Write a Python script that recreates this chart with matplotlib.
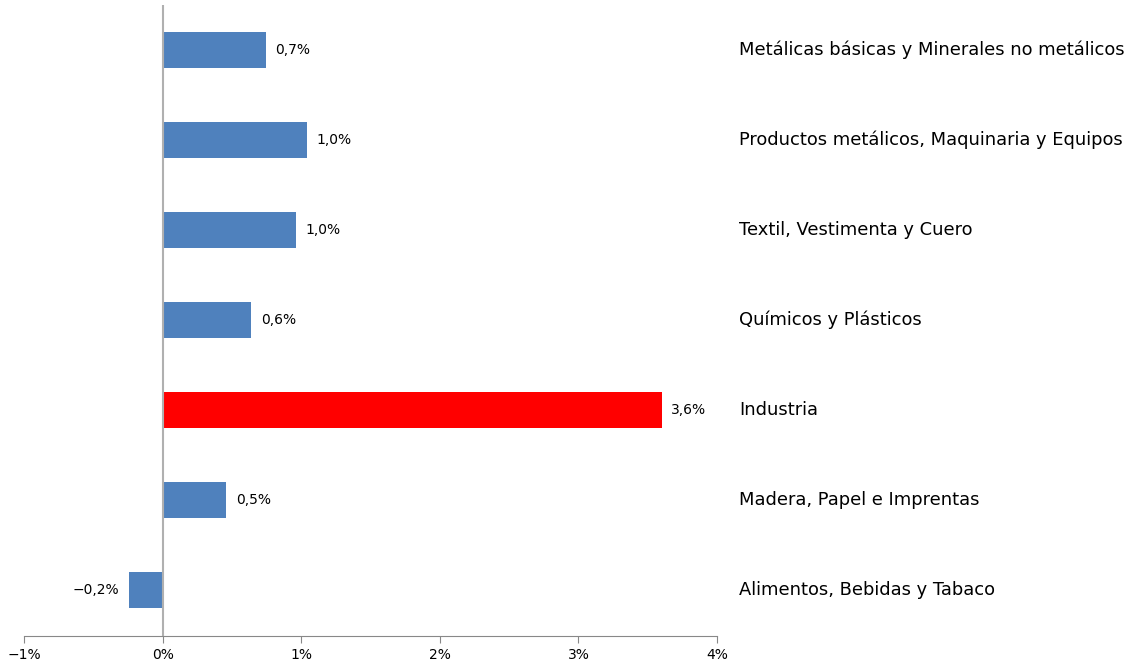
import matplotlib
matplotlib.use('Agg')
import matplotlib.pyplot as plt
import matplotlib.transforms as mtransforms
from matplotlib.ticker import FuncFormatter

# data, top to bottom
categorias = ['Metálicas básicas y Minerales no metálicos',
              'Productos metálicos, Maquinaria y Equipos',
              'Textil, Vestimenta y Cuero',
              'Químicos y Plásticos',
              'Industria',
              'Madera, Papel e Imprentas',
              'Alimentos, Bebidas y Tabaco']
valores = [0.744, 1.04, 0.96, 0.64, 3.60, 0.46, -0.245]
etiquetas = ['0,7%', '1,0%', '1,0%', '0,6%', '3,6%', '0,5%', '\u22120,2%']
colores = ['#4F81BD', '#4F81BD', '#4F81BD', '#4F81BD', '#FF0000', '#4F81BD', '#4F81BD']

plt.rcParams['font.family'] = 'DejaVu Sans'

fig = plt.figure(figsize=(11.33, 6.69), dpi=100)
ax = fig.add_axes([24/1133, 33/669, (717-24)/1133, (636-5)/669])

pos = list(range(len(categorias)))[::-1]
ax.barh(pos, valores, height=0.4, color=colores, zorder=2)

ax.set_xlim(-1, 4)
ax.set_ylim(-0.51, 6.5)
ax.axvline(0, color='#b0b0b0', lw=1.5, zorder=3)

# value labels
for p, v, t in zip(pos, valores, etiquetas):
    if v >= 0:
        ax.text(v + 0.07, p, t, ha='left', va='center', fontsize=10)
    else:
        ax.text(v - 0.07, p, t, ha='right', va='center', fontsize=10)

# category labels on the right
trans = mtransforms.blended_transform_factory(ax.transAxes, ax.transData)
for p, c in zip(pos, categorias):
    ax.text(1.032, p, c, transform=trans, ha='left', va='center', fontsize=12.9)

ax.xaxis.set_major_formatter(FuncFormatter(lambda x, _: f'{int(x)}%'.replace('-', '\u2212')))
ax.set_xticks([-1, 0, 1, 2, 3, 4])
ax.set_yticks([])
for s in ['left', 'top', 'right']:
    ax.spines[s].set_visible(False)
ax.spines['bottom'].set_color('#888888')
ax.tick_params(axis='x', colors='#888888', length=5, labelcolor='black', labelsize=10)

plt.savefig('out.png', dpi=100)
